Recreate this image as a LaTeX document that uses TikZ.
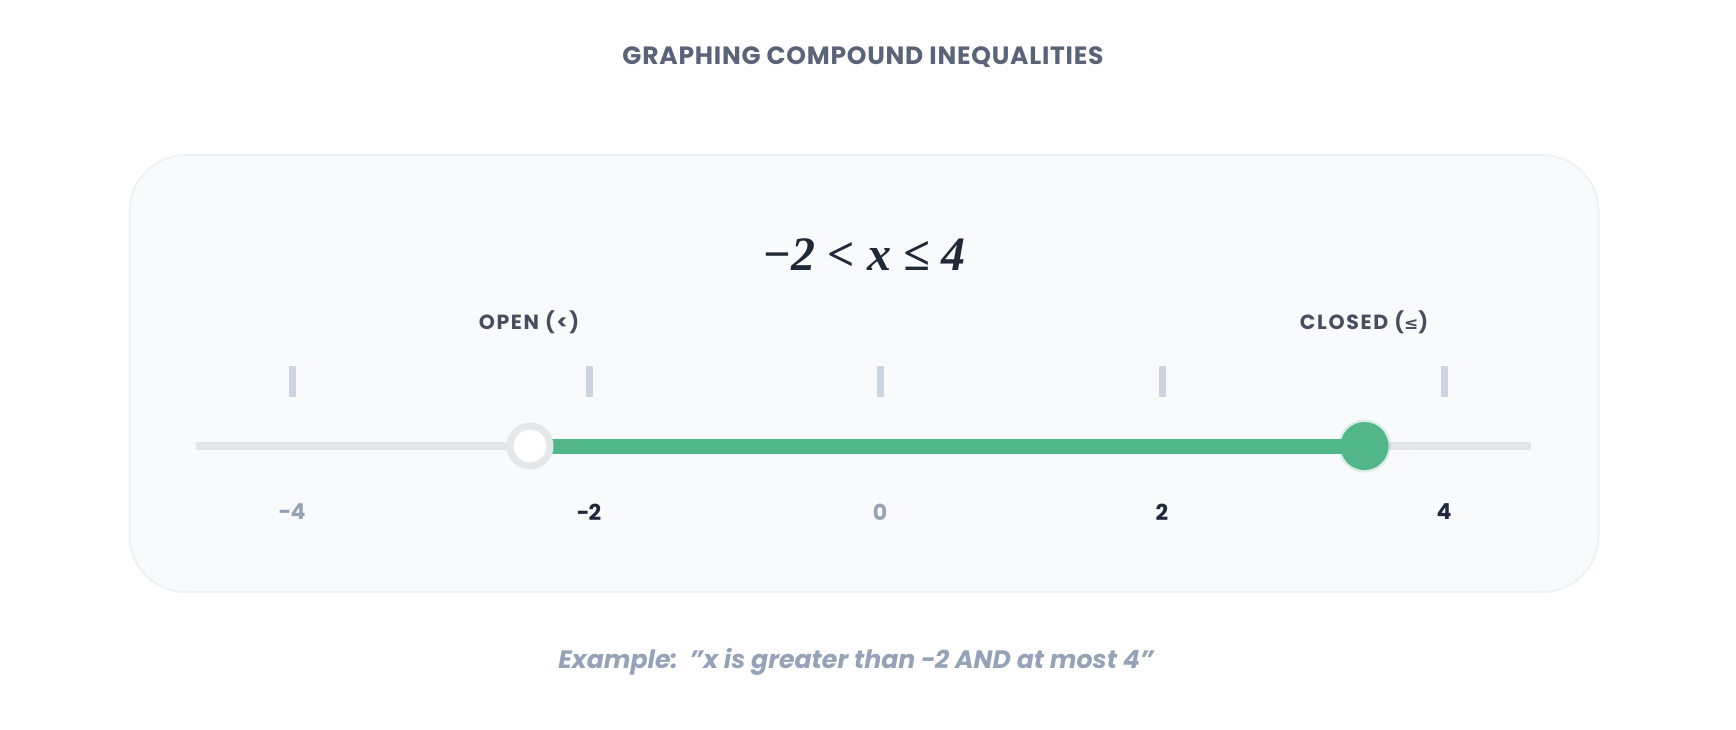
\documentclass[tikz,border=0pt]{standalone}
\usepackage{fontspec}
\setmainfont{Poppins}
\newfontfamily\ineqfont{Liberation Serif}
\newfontfamily\symfont{DejaVu Sans}
\newfontfamily\titlefont{Poppins}[LetterSpace=3]
\newfontfamily\lblfont{Poppins}[LetterSpace=8]
\definecolor{titlec}{HTML}{5A6478}
\definecolor{cardfill}{HTML}{F8FAFC}
\definecolor{cardline}{HTML}{EEF1F5}
\definecolor{ineqc}{HTML}{1F2937}
\definecolor{lblc}{HTML}{474F5F}
\definecolor{tickc}{HTML}{CBD5E1}
\definecolor{trackc}{HTML}{E3E7EC}
\definecolor{ringc}{HTML}{E5E7EB}
\definecolor{greenc}{HTML}{52B788}
\definecolor{mutedc}{HTML}{94A3B8}
\definecolor{darkc}{HTML}{1E293B}
\begin{document}
\begin{tikzpicture}[x=1pt,y=-1pt,
  tickmark/.style={rectangle,fill=tickc,minimum width=7pt,minimum height=31pt,inner sep=0pt},
  numlbl/.style={font=\fontsize{22}{26}\selectfont\bfseries,inner sep=0pt},
  endlbl/.style={font=\lblfont\fontsize{20.5}{24}\selectfont\bfseries,text=lblc,inner sep=0pt}]
\useasboundingbox[fill=white] (0,0) rectangle (1736,730);
% title
\node[font=\titlefont\fontsize{25}{28}\selectfont\bfseries,text=titlec] (title) at (863,57) {GRAPHING COMPOUND INEQUALITIES};
% card
\node[draw=cardline,line width=2pt,fill=cardfill,rounded corners=56pt,minimum width=1469pt,minimum height=437pt,inner sep=0pt] (card) at (864,373.5) {};
% inequality
\node[font=\ineqfont\fontsize{48}{56}\selectfont\bfseries\itshape,text=ineqc] (ineq) at (864,255) {−2 < x ≤ 4};
% endpoint labels
\node[endlbl] (openlbl) at (529,322) {OPEN (<)};
\node[endlbl] (closedlbl) at (1364,322) {CLOSED ({\symfont\fontsize{17}{20}\selectfont ≤})};
% ticks
\foreach \i/\x in {1/292,2/589,3/880,4/1162,5/1444}{
  \node[tickmark] (t\i) at (\x,381) {};
}
% track
\coordinate (trackL) at (196,446);
\coordinate (trackR) at (1531,446);
\draw[trackc,line width=8pt] (trackL) -- (trackR);
% solution segment
\coordinate (o) at (530,446);
\coordinate (c) at (1364.5,446);
\draw[greenc,line width=15pt] (o) -- (c);
% glow behind closed dot
\fill[greenc,opacity=0.18] (c) circle (26.5pt);
% endpoints
\node[circle,draw=ringc,line width=7pt,fill=white,minimum size=40pt,inner sep=0pt] (open) at (o) {};
\node[circle,fill=greenc,minimum size=48pt,inner sep=0pt] (closed) at (c) {};
% number labels
\node[numlbl,text=mutedc] (l1) at (292,512) {−4};
\node[numlbl,text=darkc] (l2) at (589,512) {−2};
\node[numlbl,text=mutedc] (l3) at (880,512) {0};
\node[numlbl,text=darkc] (l4) at (1162,512) {2};
\node[numlbl,text=darkc] (l5) at (1444,512) {4};
% footer
\node[font=\fontsize{25.2}{28}\selectfont\bfseries\itshape,text=mutedc] (foot) at (856,662) {Example:\ \ "x is greater than −2 AND at most 4"};
\end{tikzpicture}
\end{document}
